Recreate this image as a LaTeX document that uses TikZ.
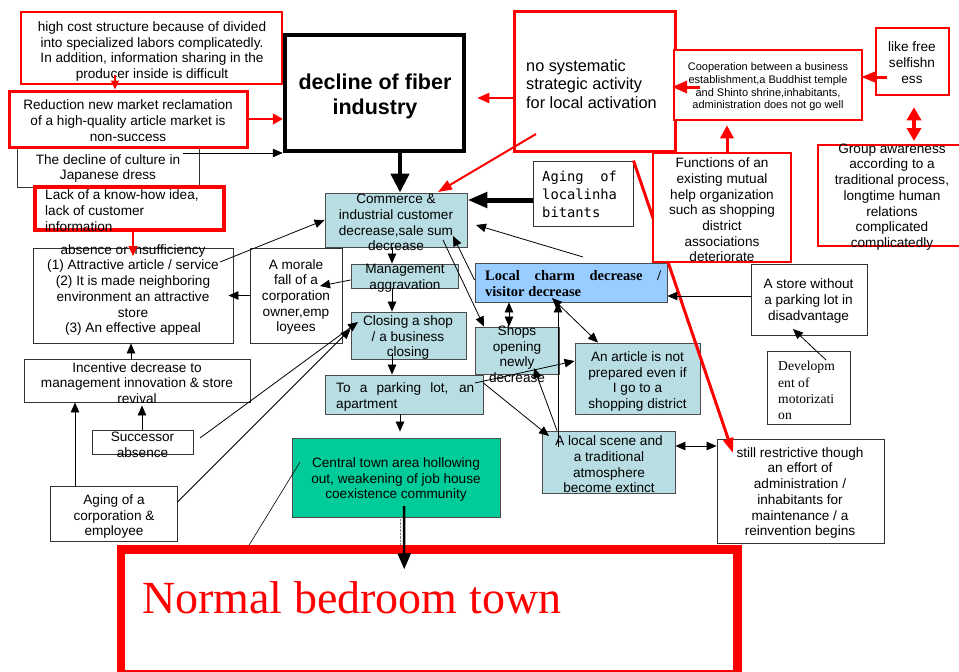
\documentclass[tikz,border=0pt]{standalone}
\usepackage{fontspec}
\setmainfont{Liberation Sans}
\newfontfamily\timesrm{Liberation Serif}
\newfontfamily\gothmono{DejaVu Sans Mono}
\usepackage{xcolor}
\usetikzlibrary{fit,arrows.meta}
\definecolor{paleblue}{RGB}{184,222,227}
\definecolor{skyblue}{RGB}{153,204,255}
\definecolor{mintgreen}{RGB}{0,204,153}
\tolerance=9999
\hbadness=10000
\hyphenpenalty=10000
\exhyphenpenalty=10000
\tikzset{
  box/.style={draw=black!80, fill=white, line width=0.9pt, inner sep=0pt},
  bbox/.style={box, draw=black!70, fill=#1},
  bbox/.default=paleblue,
  rbox/.style={box, draw=red, line width=#1},
  rbox/.default=2.5pt,
  lbl/.style={inner sep=0pt, align=center, text=black, font=\fontsize{13.6}{15.7}\selectfont},
  arr/.style={->, line width=0.8pt},
  dblarr/.style={<->, line width=0.8pt},
  bigarr/.style={line width=#1, -{Triangle[length=18pt,width=16pt]}},
  redarr/.style={red, line width=#1, -{Triangle[length=12pt,width=11pt]}},
  redarr/.default=2pt,
}

\begin{document}
\begin{tikzpicture}[x=1pt, y=-1pt, >={Triangle[length=10pt,width=8.5pt]}]
\useasboundingbox (0,0) rectangle (959,672);

% left column
\node[box, fit={(17,146) (199,187)}] (culture) {};
\node[lbl] (culture-t) at (108,168.5) {The decline of culture in\\Japanese dress};
\node[rbox, fit={(21,12) (282,84)}] (hicost) {};
\node[lbl] (hicost-t) at (152,51.5) {high cost structure because of divided\\into specialized labors complicatedly.\\In addition, information sharing in the\\producer inside is difficult};
\node[rbox=3pt, fit={(9,91) (247,147)}] (reduct) {};
\node[lbl] (reduct-t) at (128,120.5) {Reduction new market reclamation\\of a high-quality article market is\\non-success};
\node[rbox=3.5pt, fit={(35,187) (224,230)}] (lack) {};
\node[lbl, anchor=west, align=left] (lack-t) at (45,210.5) {Lack of a know-how idea,\\lack of customer\\information};
\node[box, fit={(33,248) (233,343)}] (absence) {};
\node[lbl] (absence-t) at (133,290) {absence or insufficiency\\(1) Attractive article / service\\(2) It is made neighboring\\environment an attractive\\store\\(3) An effective appeal};
\node[box, fit={(250,248) (342,343)}] (morale) {};
\node[lbl] (morale-t) at (296,297) {A morale\\fall of a\\corporation\\owner,emp\\loyees};
\node[box, fit={(24,359) (250,402)}] (incentive) {};
\node[lbl] (incentive-t) at (137,383) {Incentive decrease to\\management innovation \& store\\revival};
\node[box, fit={(92,430) (193,454)}] (successor) {};
\node[lbl] (successor-t) at (142.5,445) {Successor\\absence};
\node[box, fit={(50,486) (177,541)}] (agingcorp) {};
\node[lbl] (agingcorp-t) at (114,516.5) {Aging of a\\corporation \&\\employee};

% top row
\node[box, draw=black, line width=4.5pt, fit={(285,35) (464,151)}] (decline) {};
\node[lbl, font=\bfseries\fontsize{21.5}{25}\selectfont] (decline-t) at (375,96.5) {decline of fiber\\industry};
\node[rbox=3pt, fit={(514,11) (675,151)}] (nosys) {};
\node[lbl, anchor=west, align=left, font=\fontsize{16.3}{18.5}\selectfont] (nosys-t) at (526,84) {no systematic\\strategic activity\\for local activation};
\node[rbox, fit={(674,50) (862,120)}] (coop) {};
\node[lbl, font=\fontsize{11}{12.7}\selectfont] (coop-t) at (768,87) {Cooperation between a business\\establishment,a Buddhist temple\\and Shinto shrine,inhabitants,\\administration does not go well};
\node[rbox, fit={(876,28) (949,95)}] (likefree) {};
\node[lbl] (likefree-t) at (912,62.5) {like free\\selfishn\\ess};
\node[rbox=2pt, fit={(818,145) (965,246)}] (group) {};
\node[lbl] (group-t) at (892,197) {Group awareness\\according to a\\traditional process,\\longtime human\\relations\\complicated\\complicatedly};
\node[box, fit={(533,161) (633,226)}] (agingloc) {};
\node[lbl, anchor=west, align=left, font=\gothmono\fontsize{13.8}{18}\selectfont] (agingloc-t) at (542,194) {Aging\ \ of\\localinha\\bitants};

% middle
\node[bbox, fit={(325,193) (467,247)}] (commerce) {};
\node[lbl] (commerce-t) at (396,222.5) {Commerce \&\\industrial customer\\decrease,sale sum\\decrease};
\node[bbox, fit={(351,264) (458,288)}] (mgmt) {};
\node[lbl] (mgmt-t) at (405,278.5) {Management\\aggravation};
\node[bbox, fit={(351,312) (466,359)}] (closing) {};
\node[lbl] (closing-t) at (408,337.5) {Closing a shop\\/ a business\\closing};
\node[bbox, fit={(325,375) (483,414)}] (parking) {};
\node[lbl, anchor=west, align=justify, text width=138pt] (parking-t) at (336,397) {To a parking lot, an apartment};
\node[bbox=skyblue, fit={(475,263) (667,302)}] (localcharm) {};
\node[lbl, anchor=west, align=justify, text width=176pt, font=\timesrm\bfseries\fontsize{14.5}{16}\selectfont] (localcharm-t) at (485,284) {Local charm decrease / visitor decrease};
\node[bbox, fit={(475,327) (559,374)}] (shops) {};
\node[lbl] (shops-t) at (517,354) {Shops\\opening\\newly\\decrease};
\node[bbox, fit={(575,343) (700,414)}] (article) {};
\node[lbl] (article-t) at (637.5,381.5) {An article is not\\prepared even if\\I go to a\\shopping district};
\node[bbox, fit={(542,431) (675,493)}] (localscene) {};
\node[lbl] (localscene-t) at (609,464.5) {A local scene and\\a traditional\\atmosphere\\become extinct};
\node[box, fit={(751,264) (867,335)}] (storenp) {};
\node[lbl] (storenp-t) at (808.5,301) {A store without\\a parking lot in\\disadvantage};
\node[box, fit={(767,351) (850,424)}] (motor) {};
\node[lbl, anchor=west, align=left, font=\timesrm\fontsize{13.6}{16.3}\selectfont] (motor-t) at (778,390.5) {Developm\\ent of\\motorizati\\on};
\node[box, fit={(717,439) (884,543)}] (still) {};
\node[lbl] (still-t) at (800,493) {still restrictive though\\an effort of\\administration /\\inhabitants for\\maintenance / a\\reinvention begins};
\node[bbox=mintgreen, fit={(292,438) (500,517)}] (central) {};
\node[lbl] (central-t) at (396,479.5) {Central town area hollowing\\out, weakening of job house\\coexistence community};

% bottom
\node[rbox=8.5pt, fit={(121,549.5) (737.5,674)}] (bedroom) {};
\node[anchor=base west, inner sep=0pt, text=red, font=\timesrm\fontsize{46}{50}\selectfont] (bedroom-t) at (142,613) {Normal bedroom town};

% the long red arrow runs behind the mutual help box
\draw[redarr=3pt, -{Triangle[length=15pt,width=10pt]}] (agingloc.north east) -- ([shift={(-67.5,-38)}]still.center);
\node[rbox=2pt, fit={(653,153) (791,262)}] (functions) {};
\node[lbl] (functions-t) at (722,210) {Functions of an\\existing mutual\\help organization\\such as shopping\\district\\associations\\deteriorate};

% red connectors
\draw[redarr=1.5pt, -{Triangle[length=9pt,width=8pt]}] ([shift={(-36.5,27)}]hicost.center) -- (reduct.north -| 115,0);
\draw[redarr=1.5pt, -{Triangle[length=10pt,width=11pt]}] (reduct.east) -- (reduct.east -| decline.west);
\draw[redarr=1.5pt, -{Triangle[length=10pt,width=9pt]}] (lack.south -| 133,0) -- ([shift={(0,-39.5)}]absence.center);
\draw[redarr, -{Triangle[length=12pt,width=10pt]}, shorten >=11pt] (nosys.west |- 0,98) -- (decline.east |- 0,98);
\draw[redarr, -{Triangle[length=14pt,width=10pt]}] ([shift={(-58.5,53)}]nosys.center) -- ([shift={(42,-28)}]commerce.center);
\draw[redarr=3pt, -{Triangle[length=15pt,width=12pt]}] ([shift={(-68,2)}]coop.center) -- ([shift={(77.5,6)}]nosys.center);
\draw[redarr=3pt, -{Triangle[length=14pt,width=10pt]}] ([shift={(-25.5,15.5)}]likefree.center) -- ([shift={(93,-8)}]coop.center);
\draw[redarr=4pt, {Triangle[length=13pt,width=14pt]}-{Triangle[length=13pt,width=14pt]}, shorten <=11pt, shorten >=3pt] (likefree.south -| 914,0) -- (group.north -| 914,0);
\draw[redarr=3pt, -{Triangle[length=13pt,width=13pt]}, shorten >=4pt] (functions.north -| 727,0) -- (coop.south -| 727,0);

% black connectors
\draw[bigarr=4.5pt, -{Triangle[length=19pt,width=18pt]}] (decline.south -| 400,0) -- (commerce.north -| 400,0);
\draw[bigarr=5pt, -{Triangle[length=20pt,width=15pt]}] (agingloc.west |- 0,200) -- (commerce.east |- 0,200);
\draw[arr] ([shift={(75,-13.5)}]culture.center) -- (decline.west |- 0,153);
\draw[arr] ([shift={(87,-33.5)}]absence.center) -- (commerce.west);
\draw[arr] (morale.west) -- ([xshift=-5pt]absence.east);
\draw[arr] ([yshift=-4pt]mgmt.west) -- ([shift={(24,-9.5)}]morale.center);
\draw[arr] (commerce.south -| 392,0) -- (mgmt.north -| 392,0);
\draw[arr] (mgmt.south -| 392,0) -- (closing.north -| 392,0);
\draw[arr] ([shift={(-16.5,17.5)}]closing.center) -- (parking.north -| 392,0);
\draw[arr, shorten >=6pt] (parking.south -| 400,0) -- (central.north -| 400,0);
\draw[densely dotted, gray, thin] (central.south -| 400,0) -- (bedroom.north -| 400,0);
\draw[bigarr=2.5pt, -{Triangle[length=16pt,width=13pt]}] ([shift={(8,28.5)}]central.center) -- ([shift={(-25,-42.5)}]bedroom.center);
\draw[line width=0.6pt] ([shift={(-96,-15.5)}]central.center) -- (bedroom.north -| 249,0);
\coordinate (charmtail) at (583,257);
\draw[arr] (charmtail) -- ([shift={(80,5)}]commerce.center);
\draw[arr] (localcharm.west |- 0,280) -- ([shift={(57,16)}]commerce.center);
\draw[arr] ([shift={(47,20)}]commerce.center) -- (shops.north -| 484,0);
\draw[arr] (storenp.west |- 0,296) -- (localcharm.east |- 0,296);
\draw[arr] ([shift={(17.5,-27.5)}]motor.center) -- ([shift={(-16,29.5)}]storenp.center);
\draw[dblarr] (localcharm.south -| 509,0) -- (shops.north -| 509,0);
\draw[arr] ([shift={(-50.5,-15)}]localscene.center) -- (localcharm.south -| 558,0);
\draw[dblarr] ([shift={(-19,15.5)}]localcharm.center) -- (article.north -| 598,0);
\draw[arr] ([shift={(71,-11.5)}]parking.center) -- (article.west |- 0,361);
\draw[arr] (parking.east |- 0,383) -- ([shift={(-59.5,-26)}]localscene.center);
\draw[arr] (localscene.north -| 557,0) -- ([shift={(17,17.5)}]shops.center);
\draw[dblarr] (localscene.east |- 0,446) -- (still.west |- 0,446);
\draw[arr] ([shift={(57.5,-4)}]successor.center) -- ([shift={(-50.5,-13.5)}]closing.center);
\draw[arr] (agingcorp.east |- 0,502) -- (closing.west |- 0,329);
\draw[arr] (agingcorp.north -| 75,0) -- (incentive.south -| 75,0);
\draw[arr, shorten >=3pt] (successor.north -| 142,0) -- (incentive.south -| 142,0);
\draw[arr] (incentive.north -| 131,0) -- (absence.south -| 131,0);
\end{tikzpicture}
\end{document}
